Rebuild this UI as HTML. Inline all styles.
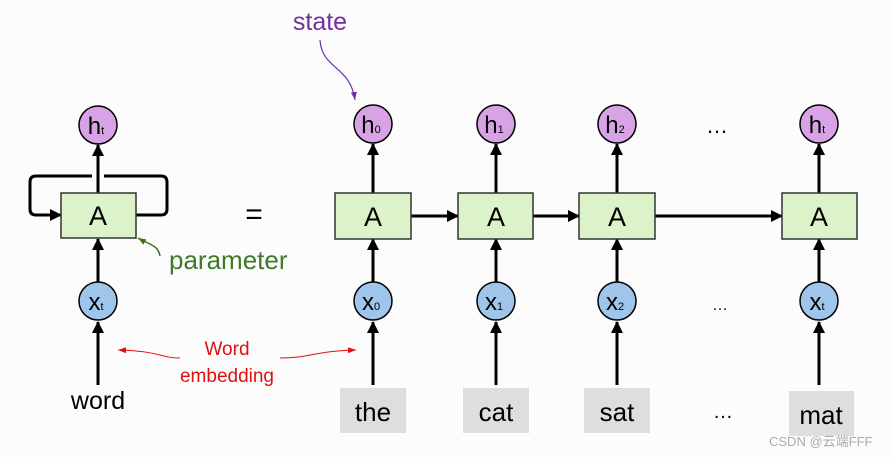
<!DOCTYPE html>
<html><head><meta charset="utf-8"><style>
html,body{margin:0;padding:0;background:#fcfcfc;}
svg{display:block;font-family:"Liberation Sans",sans-serif;}
</style></head><body>
<svg width="893" height="457" viewBox="0 0 893 457" xmlns="http://www.w3.org/2000/svg">
<defs>
<marker id="ah" markerWidth="12" markerHeight="12" refX="11" refY="6" orient="auto" markerUnits="userSpaceOnUse"><path d="M0,0 L12,6 L0,12 z" fill="#000"/></marker>
<marker id="ahr" markerWidth="8" markerHeight="6" refX="8" refY="3" orient="auto" markerUnits="userSpaceOnUse"><path d="M0,0 L8,3 L0,6 z" fill="#e01010"/></marker>
<marker id="ahp" markerWidth="8" markerHeight="6" refX="8" refY="3" orient="auto" markerUnits="userSpaceOnUse"><path d="M0,0 L8,3 L0,6 z" fill="#7030a0"/></marker>
<marker id="ahg" markerWidth="8" markerHeight="6" refX="8" refY="3" orient="auto" markerUnits="userSpaceOnUse"><path d="M0,0 L8,3 L0,6 z" fill="#3a7020"/></marker>
</defs>
<rect width="893" height="457" fill="#fcfcfc"/>

<text x="320" y="30" font-size="25" fill="#7030a0" text-anchor="middle">state</text>
<path d="M320,40 C322,70 350,65 355,100" fill="none" stroke="#7030a0" stroke-width="1.2" marker-end="url(#ahp)"/>

<path d="M92,176 L36,176 Q30,176 30,182 L30,209 Q30,215 36,215 L61,215" fill="none" stroke="#000" stroke-width="3" marker-end="url(#ah)"/>
<path d="M104,176 L161,176 Q167,176 167,182 L167,209 Q167,215 161,215 L136,215" fill="none" stroke="#000" stroke-width="3"/>
<line x1="98" y1="193" x2="98" y2="145" stroke="#000" stroke-width="3" marker-end="url(#ah)"/>
<line x1="98" y1="282" x2="98" y2="239" stroke="#000" stroke-width="3" marker-end="url(#ah)"/>
<line x1="98" y1="385" x2="98" y2="322" stroke="#000" stroke-width="3" marker-end="url(#ah)"/>
<rect x="61" y="193" width="75" height="45" fill="#dcf3c9" stroke="#333" stroke-width="1.5"/>
<text x="98" y="225" font-size="27" text-anchor="middle">A</text>
<circle cx="98" cy="125" r="19" fill="#d8a2e6" stroke="#000" stroke-width="1.5"/>
<text x="96" y="134" font-size="24" text-anchor="middle">h<tspan font-size="11">t</tspan></text>
<circle cx="98" cy="301" r="19" fill="#9fc5ea" stroke="#000" stroke-width="1.5"/>
<text x="96" y="310" font-size="24" text-anchor="middle">x<tspan font-size="11">t</tspan></text>
<text x="98" y="409" font-size="25" text-anchor="middle">word</text>

<path d="M160,256 C158,245 150,245 138,238" fill="none" stroke="#3a7020" stroke-width="1.5" marker-end="url(#ahg)"/>
<text x="169" y="269" font-size="26" fill="#3f7a2a">parameter</text>

<text x="254" y="224" font-size="30" text-anchor="middle">=</text>

<text x="227" y="355" font-size="19" fill="#e01010" text-anchor="middle">Word</text>
<text x="227" y="382" font-size="19" fill="#e01010" text-anchor="middle">embedding</text>
<path d="M180,358 C160,358 160,351 118,350" fill="none" stroke="#e01010" stroke-width="1" marker-end="url(#ahr)"/>
<path d="M280,358 C310,358 315,351 356,350" fill="none" stroke="#e01010" stroke-width="1" marker-end="url(#ahr)"/>

<line x1="411" y1="216" x2="458" y2="216" stroke="#000" stroke-width="3" marker-end="url(#ah)"/>
<line x1="533" y1="216" x2="579" y2="216" stroke="#000" stroke-width="3" marker-end="url(#ah)"/>
<line x1="655" y1="216" x2="782" y2="216" stroke="#000" stroke-width="3" marker-end="url(#ah)"/>

<g font-size="24">
<line x1="373" y1="193" x2="373" y2="144" stroke="#000" stroke-width="3" marker-end="url(#ah)"/>
<line x1="373" y1="282" x2="373" y2="239" stroke="#000" stroke-width="3" marker-end="url(#ah)"/>
<line x1="373" y1="385" x2="373" y2="322" stroke="#000" stroke-width="3" marker-end="url(#ah)"/>
<rect x="335" y="193" width="76" height="46" fill="#dcf3c9" stroke="#333" stroke-width="1.5"/>
<text x="373" y="226" font-size="27" text-anchor="middle">A</text>
<circle cx="373" cy="124" r="19" fill="#d8a2e6" stroke="#000" stroke-width="1.5"/>
<text x="371" y="133" text-anchor="middle">h<tspan font-size="11">0</tspan></text>
<circle cx="373" cy="301" r="19" fill="#9fc5ea" stroke="#000" stroke-width="1.5"/>
<text x="371" y="310" text-anchor="middle">x<tspan font-size="11">0</tspan></text>
<rect x="340" y="388" width="66" height="45" fill="#dedede"/>
<text x="373" y="421" font-size="26" text-anchor="middle">the</text>

<line x1="496" y1="193" x2="496" y2="144" stroke="#000" stroke-width="3" marker-end="url(#ah)"/>
<line x1="496" y1="282" x2="496" y2="239" stroke="#000" stroke-width="3" marker-end="url(#ah)"/>
<line x1="496" y1="385" x2="496" y2="322" stroke="#000" stroke-width="3" marker-end="url(#ah)"/>
<rect x="458" y="193" width="75" height="46" fill="#dcf3c9" stroke="#333" stroke-width="1.5"/>
<text x="496" y="226" font-size="27" text-anchor="middle">A</text>
<circle cx="496" cy="124" r="19" fill="#d8a2e6" stroke="#000" stroke-width="1.5"/>
<text x="494" y="133" text-anchor="middle">h<tspan font-size="11">1</tspan></text>
<circle cx="496" cy="301" r="19" fill="#9fc5ea" stroke="#000" stroke-width="1.5"/>
<text x="494" y="310" text-anchor="middle">x<tspan font-size="11">1</tspan></text>
<rect x="463" y="388" width="66" height="45" fill="#dedede"/>
<text x="496" y="421" font-size="26" text-anchor="middle">cat</text>

<line x1="617" y1="193" x2="617" y2="144" stroke="#000" stroke-width="3" marker-end="url(#ah)"/>
<line x1="617" y1="282" x2="617" y2="239" stroke="#000" stroke-width="3" marker-end="url(#ah)"/>
<line x1="617" y1="385" x2="617" y2="322" stroke="#000" stroke-width="3" marker-end="url(#ah)"/>
<rect x="579" y="193" width="76" height="46" fill="#dcf3c9" stroke="#333" stroke-width="1.5"/>
<text x="617" y="226" font-size="27" text-anchor="middle">A</text>
<circle cx="617" cy="124" r="19" fill="#d8a2e6" stroke="#000" stroke-width="1.5"/>
<text x="615" y="133" text-anchor="middle">h<tspan font-size="11">2</tspan></text>
<circle cx="617" cy="301" r="19" fill="#9fc5ea" stroke="#000" stroke-width="1.5"/>
<text x="615" y="310" text-anchor="middle">x<tspan font-size="11">2</tspan></text>
<rect x="584" y="388" width="66" height="45" fill="#dedede"/>
<text x="617" y="421" font-size="26" text-anchor="middle">sat</text>

<line x1="819" y1="193" x2="819" y2="144" stroke="#000" stroke-width="3" marker-end="url(#ah)"/>
<line x1="819" y1="282" x2="819" y2="239" stroke="#000" stroke-width="3" marker-end="url(#ah)"/>
<line x1="819" y1="385" x2="819" y2="322" stroke="#000" stroke-width="3" marker-end="url(#ah)"/>
<rect x="782" y="193" width="75" height="46" fill="#dcf3c9" stroke="#333" stroke-width="1.5"/>
<text x="819" y="226" font-size="27" text-anchor="middle">A</text>
<circle cx="819" cy="124" r="19" fill="#d8a2e6" stroke="#000" stroke-width="1.5"/>
<text x="817" y="133" text-anchor="middle">h<tspan font-size="11">t</tspan></text>
<circle cx="819" cy="301" r="19" fill="#9fc5ea" stroke="#000" stroke-width="1.5"/>
<text x="817" y="310" text-anchor="middle">x<tspan font-size="11">t</tspan></text>
<rect x="789" y="391" width="65" height="45" fill="#dedede"/>
<text x="821" y="424" font-size="26" text-anchor="middle">mat</text>
</g>

<text x="717" y="133" font-size="22" text-anchor="middle">…</text>
<text x="720" y="310" font-size="16" text-anchor="middle">…</text>
<text x="723" y="418" font-size="20" text-anchor="middle">…</text>

<text x="769" y="446" font-size="13" fill="#aaaaaa" font-family="'Liberation Sans','Noto Sans CJK SC',sans-serif">CSDN @云端FFF</text>
</svg>
</body></html>
